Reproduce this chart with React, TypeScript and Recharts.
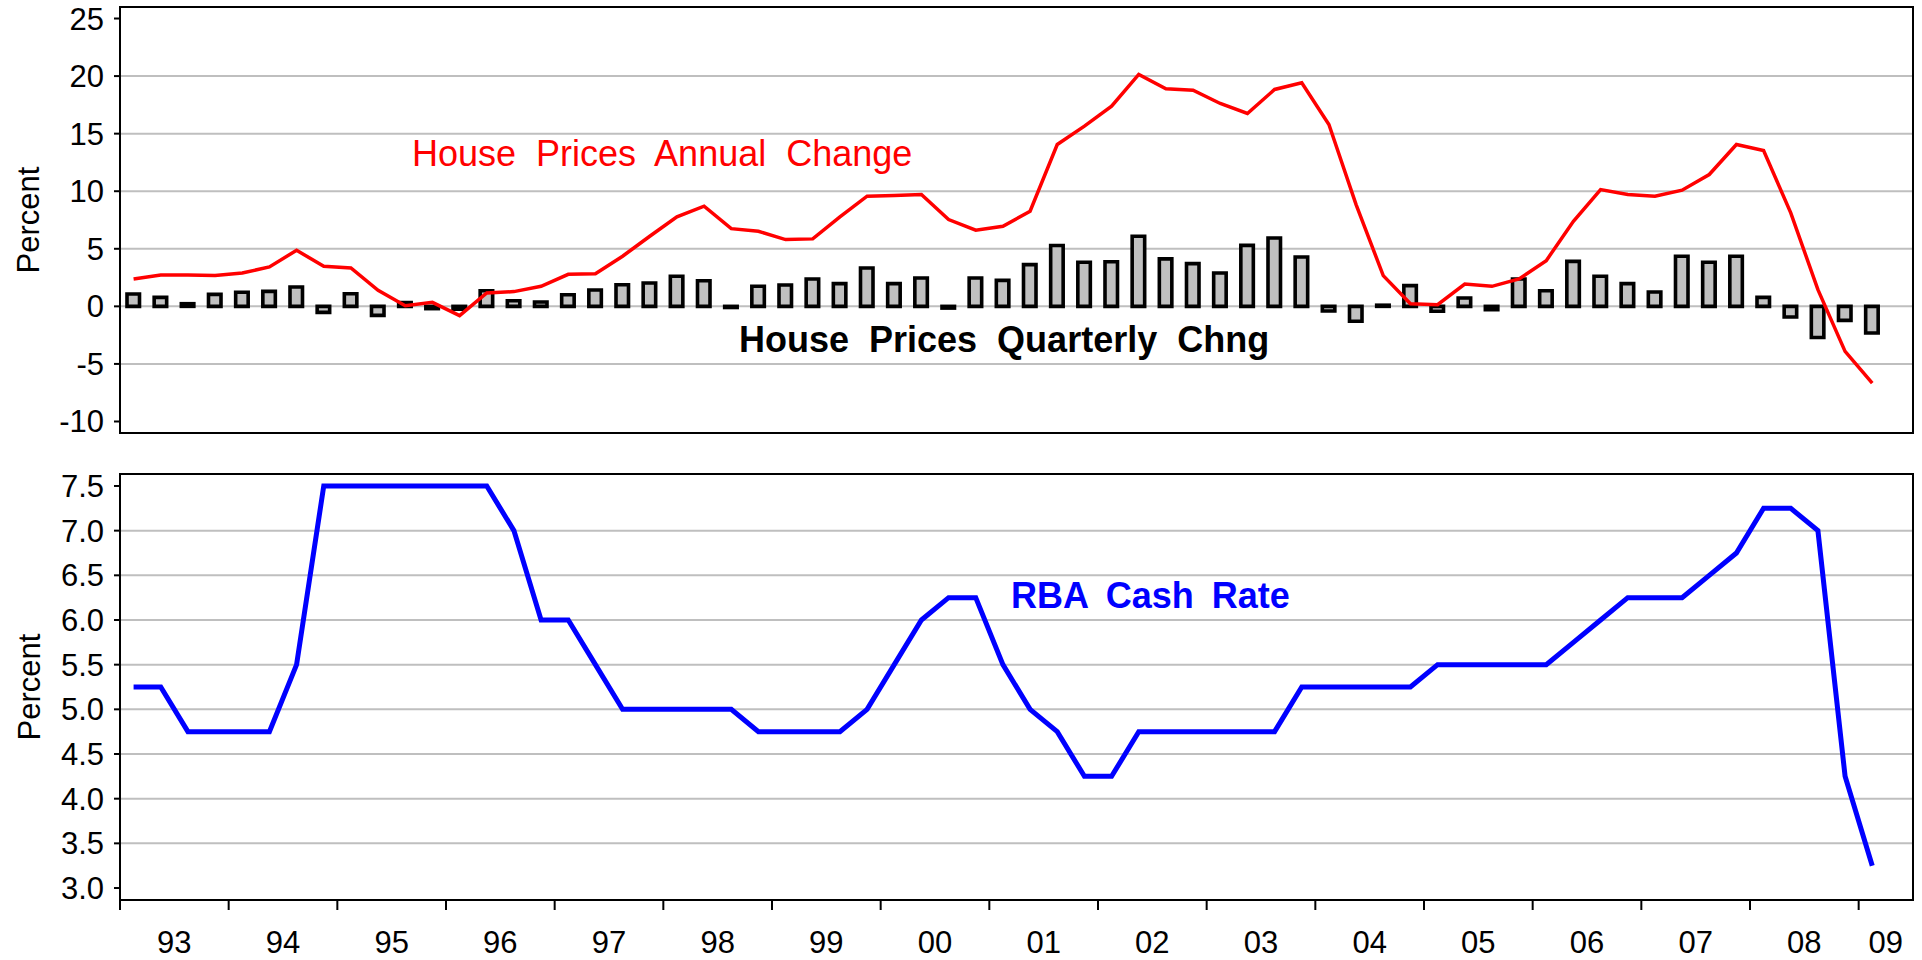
import React from 'react';
import { ComposedChart, Bar, Line, XAxis, YAxis, CartesianGrid, ReferenceArea } from 'recharts';

// year labels on the shared time axis
const years = ['93', '94', '95', '96', '97', '98', '99', '00', '01', '02', '03', '04', '05', '06', '07', '08', '09'];
// quarterly slots 93Q1 .. 09Q2 (last slot is empty)
const quarters = years.flatMap((y) => ['Q1', 'Q2', 'Q3', 'Q4'].map((q) => `${y}${q}`)).slice(0, 66);

// house prices, quarterly change (%), 93Q1 .. 09Q1
const houseQuarterly = [
  1.07, 0.78, 0.23, 1.04, 1.22, 1.3, 1.68, -0.52, 1.1, -0.78,
  0.32, -0.2, -0.25, 1.36, 0.49, 0.38, 1.01, 1.42, 1.88, 2.03,
  2.61, 2.23, -0.1, 1.74, 1.86, 2.38, 1.97, 3.33, 1.97, 2.46,
  -0.15, 2.46, 2.26, 3.62, 5.28, 3.83, 3.88, 6.09, 4.12, 3.71,
  2.9, 5.3, 5.94, 4.29, -0.4, -1.3, 0.1, 1.8, -0.43, 0.72,
  -0.29, 2.38, 1.36, 3.91, 2.61, 1.97, 1.25, 4.35, 3.83, 4.35,
  0.78, -0.93, -2.7, -1.22, -2.32,
];

// house prices, annual change (%)
const houseAnnual = [
  2.38, 2.72, 2.72, 2.67, 2.9, 3.42, 4.87, 3.48, 3.33, 1.39,
  0.06, 0.35, -0.81, 1.16, 1.28, 1.74, 2.78, 2.84, 4.35, 6.09,
  7.77, 8.7, 6.75, 6.52, 5.8, 5.86, 7.77, 9.57, 9.62, 9.71,
  7.54, 6.61, 6.96, 8.26, 14.06, 15.65, 17.39, 20.14, 18.9, 18.78,
  17.62, 16.75, 18.84, 19.42, 15.8, 8.84, 2.67, 0.23, 0.14, 1.94,
  1.74, 2.38, 3.97, 7.39, 10.14, 9.71, 9.57, 10.09, 11.45, 14.06,
  13.54, 8.12, 1.45, -3.91, -6.67,
];

// RBA cash rate (%)
const cashRate = [
  5.25, 5.25, 4.75, 4.75, 4.75, 4.75, 5.5, 7.5, 7.5, 7.5,
  7.5, 7.5, 7.5, 7.5, 7.0, 6.0, 6.0, 5.5, 5.0, 5.0,
  5.0, 5.0, 5.0, 4.75, 4.75, 4.75, 4.75, 5.0, 5.5, 6.0,
  6.25, 6.25, 5.5, 5.0, 4.75, 4.25, 4.25, 4.75, 4.75, 4.75,
  4.75, 4.75, 4.75, 5.25, 5.25, 5.25, 5.25, 5.25, 5.5, 5.5,
  5.5, 5.5, 5.5, 5.75, 6.0, 6.25, 6.25, 6.25, 6.5, 6.75,
  7.25, 7.25, 7.0, 4.25, 3.25,
];

const topTicks = [-10, -5, 0, 5, 10, 15, 20, 25];
const topGrid = [-5, 0, 5, 10, 15, 20];
const bottomTicks = [3.0, 3.5, 4.0, 4.5, 5.0, 5.5, 6.0, 6.5, 7.0, 7.5];
const bottomGrid = [3.5, 4.0, 4.5, 5.0, 5.5, 6.0, 6.5, 7.0];

const rows = quarters.map((q, i) => ({
  q,
  qtr: houseQuarterly[i] ?? null,
  ann: houseAnnual[i] ?? null,
  cash: cashRate[i] ?? null,
}));

const FONT = '"Liberation Sans", Arial, sans-serif';
const W = 1922;
const LEFT = 20;
const YAXIS_W = 100;
const RIGHT = 9;
const BAND = (W - LEFT - YAXIS_W - RIGHT) / quarters.length;

const tickStyle = { fontSize: 31, fill: '#000', fontFamily: FONT };

function YearTick(props: any) {
  const { x, y, payload } = props;
  const v: string = payload.value;
  if (!v.endsWith('Q1')) return <g />;
  const yr = v.slice(0, 2);
  const n = quarters.filter((q) => q.startsWith(yr)).length;
  const left = x - BAND / 2;
  return (
    <g>
      <line x1={left} x2={left} y1={y} y2={y + 10} stroke="#000" strokeWidth={2} />
      <text x={left + (n * BAND) / 2} y={y + 53} textAnchor="middle" style={tickStyle}>
        {yr}
      </text>
    </g>
  );
}

export default function App() {
  return (
    <div style={{ position: 'absolute', left: 0, top: 0, width: W, height: 960, background: '#fff' }}>
      <div style={{ position: 'absolute', left: 0, top: 0 }}>
        <ComposedChart width={W} height={440} data={rows} margin={{ top: 7, right: RIGHT, left: LEFT, bottom: 7 }}>
          <CartesianGrid vertical={false} horizontalValues={topGrid} stroke="#BFBFBF" strokeWidth={2} />
          <XAxis dataKey="q" hide />
          <YAxis
            width={YAXIS_W}
            domain={[-11, 26]}
            ticks={topTicks}
            allowDataOverflow
            interval={0}
            tick={tickStyle}
            tickSize={6}
            tickMargin={10}
            tickLine={{ stroke: '#000', strokeWidth: 2 }}
            axisLine={{ stroke: '#000', strokeWidth: 2 }}
          />
          <Bar dataKey="qtr" barSize={12.5} fill="#C0C0C0" stroke="#000" strokeWidth={3.6} isAnimationActive={false} />
          <Line type="linear" dataKey="ann" stroke="#FF0000" strokeWidth={3.5} dot={false} isAnimationActive={false} />
          <ReferenceArea y1={-11} y2={26} fill="none" stroke="#000" strokeWidth={2} />
        </ComposedChart>
      </div>
      <div style={{ position: 'absolute', left: 0, top: 440 }}>
        <ComposedChart width={W} height={520} data={rows} margin={{ top: 34, right: RIGHT, left: LEFT, bottom: 0 }}>
          <CartesianGrid vertical={false} horizontalValues={bottomGrid} stroke="#BFBFBF" strokeWidth={2} />
          <XAxis
            dataKey="q"
            scale="band"
            height={60}
            interval={0}
            tickSize={0}
            tickMargin={0}
            tickLine={false}
            tick={<YearTick />}
            axisLine={{ stroke: '#000', strokeWidth: 2 }}
          />
          <YAxis
            width={YAXIS_W}
            domain={[2.866, 7.634]}
            ticks={bottomTicks}
            allowDataOverflow
            interval={0}
            tickFormatter={(v: number) => v.toFixed(1)}
            tick={tickStyle}
            tickSize={6}
            tickMargin={10}
            tickLine={{ stroke: '#000', strokeWidth: 2 }}
            axisLine={{ stroke: '#000', strokeWidth: 2 }}
          />
          <Line type="linear" dataKey="cash" stroke="#0000FF" strokeWidth={5} dot={false} isAnimationActive={false} />
          <ReferenceArea y1={2.866} y2={7.634} fill="none" stroke="#000" strokeWidth={2} />
        </ComposedChart>
      </div>
      <svg
        width={W}
        height={960}
        style={{ position: 'absolute', left: 0, top: 0, pointerEvents: 'none', fontFamily: FONT }}
      >
        <text x={28} y={220} transform="rotate(-90 28 220)" textAnchor="middle" dominantBaseline="central" fontSize={31}>
          Percent
        </text>
        <text x={29} y={687} transform="rotate(-90 29 687)" textAnchor="middle" dominantBaseline="central" fontSize={31}>
          Percent
        </text>
        <text x={412} y={166} fontSize={36} fill="#FF0000" style={{ wordSpacing: 10 }}>
          House Prices Annual Change
        </text>
        <text x={739} y={352} fontSize={36} fontWeight="bold" fill="#000" style={{ wordSpacing: 10 }}>
          House Prices Quarterly Chng
        </text>
        <text x={1011} y={608} fontSize={36} fontWeight="bold" fill="#0000FF" style={{ wordSpacing: 8 }}>
          RBA Cash Rate
        </text>
      </svg>
    </div>
  );
}
